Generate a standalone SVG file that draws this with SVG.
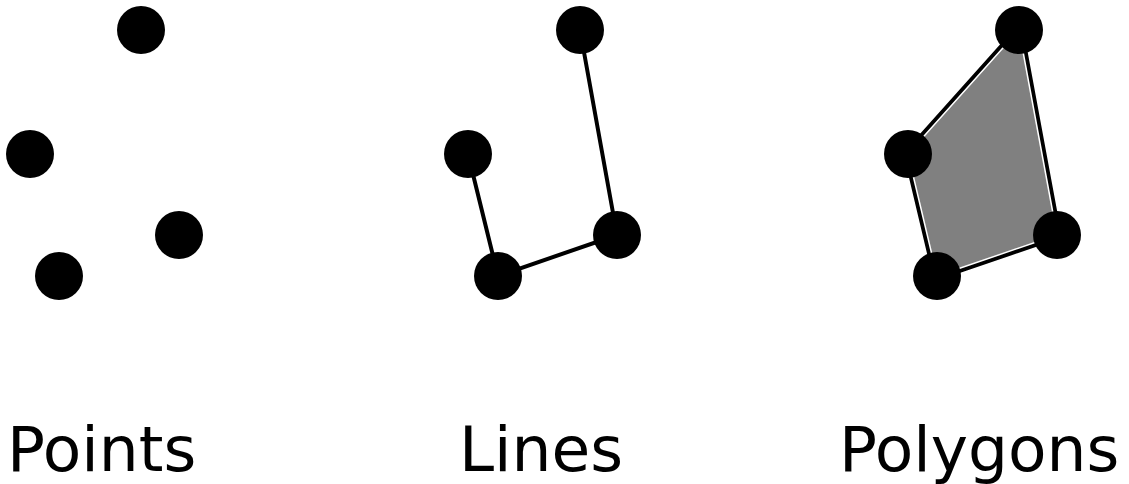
<svg xmlns="http://www.w3.org/2000/svg" width="1129" height="484" viewBox="0 0 1129 484">
<style>
.pt{fill:#000}
.ln{fill:none;stroke:#000;stroke-width:4;stroke-linejoin:round}
.lbl{font-family:"DejaVu Sans",sans-serif;font-size:63px;fill:#000}
</style>
<rect width="1129" height="484" fill="#fff"/>
<g id="points">
<circle class="pt" cx="141" cy="30" r="24"/>
<circle class="pt" cx="30" cy="154" r="24"/>
<circle class="pt" cx="179" cy="235" r="24"/>
<circle class="pt" cx="59" cy="276" r="24"/>
</g>
<g id="connectors">
<polyline class="ln" points="468,154 498,276 617,235 580,30"/>
</g>
<g id="lines">
<circle class="pt" cx="580" cy="30" r="24"/>
<circle class="pt" cx="468" cy="154" r="24"/>
<circle class="pt" cx="617" cy="235" r="24"/>
<circle class="pt" cx="498" cy="276" r="24"/>
</g>
<g id="polygon">
<polygon points="1019,30 908,154 937,276 1057,235" fill="none" stroke="#000" stroke-width="9" stroke-linejoin="round"/>
<polygon points="1019,30 908,154 937,276 1057,235" fill="#808080" stroke="#fff" stroke-width="1.5" stroke-linejoin="round"/>
<circle class="pt" cx="1019" cy="30" r="24"/>
<circle class="pt" cx="908" cy="154" r="24"/>
<circle class="pt" cx="1057" cy="235" r="24"/>
<circle class="pt" cx="937" cy="276" r="24"/>
</g>
<g id="labels">
<text class="lbl" x="7" y="471">Points</text>
<text class="lbl" x="459" y="471">Lines</text>
<text class="lbl" x="839" y="471">Polygons</text>
</g>
</svg>
